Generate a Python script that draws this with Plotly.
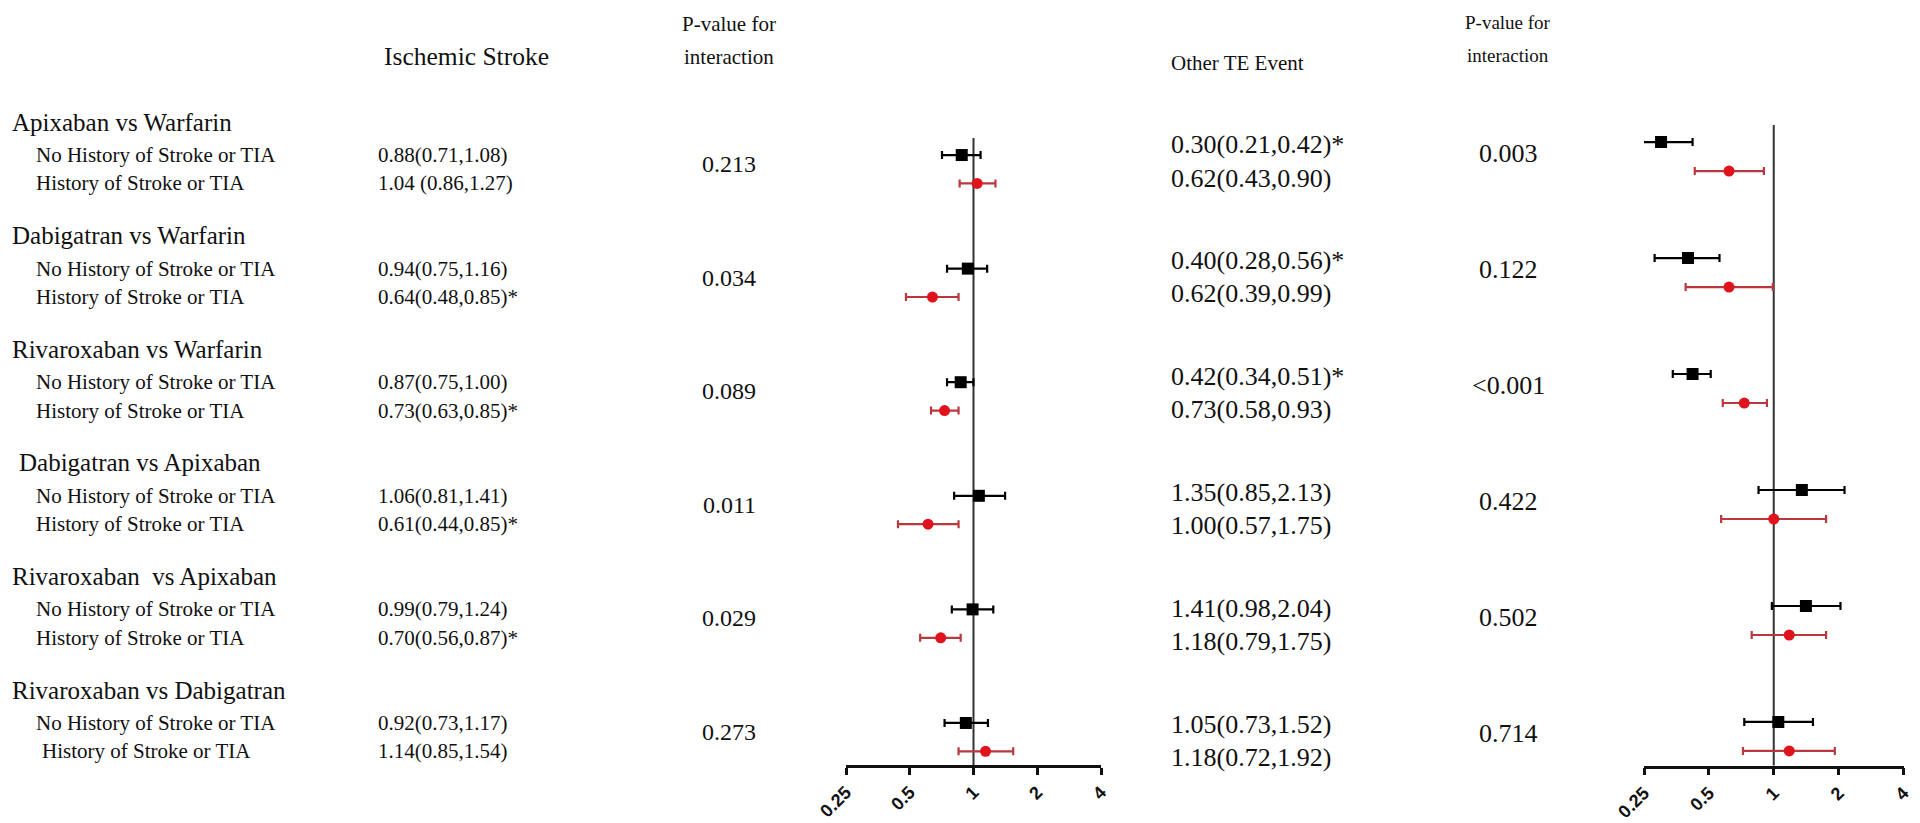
import math
import plotly.graph_objects as go

# ---------------- data ----------------
comparisons = ["Apixaban vs Warfarin", "Dabigatran vs Warfarin", "Rivaroxaban vs Warfarin",
               " Dabigatran vs Apixaban", "Rivaroxaban  vs Apixaban", "Rivaroxaban vs Dabigatran"]
subgroups = ["No History of Stroke or TIA", "History of Stroke or TIA"]

# Ischemic stroke
is_no_hr = [0.88, 0.94, 0.87, 1.06, 0.99, 0.92]
is_no_lo = [0.71, 0.75, 0.75, 0.81, 0.79, 0.73]
is_no_hi = [1.08, 1.16, 1.00, 1.41, 1.24, 1.17]
is_hx_hr = [1.04, 0.64, 0.73, 0.61, 0.70, 1.14]
is_hx_lo = [0.86, 0.48, 0.63, 0.44, 0.56, 0.85]
is_hx_hi = [1.27, 0.85, 0.85, 0.85, 0.87, 1.54]
is_no_txt = ["0.88(0.71,1.08)", "0.94(0.75,1.16)", "0.87(0.75,1.00)",
             "1.06(0.81,1.41)", "0.99(0.79,1.24)", "0.92(0.73,1.17)"]
is_hx_txt = ["1.04 (0.86,1.27)", "0.64(0.48,0.85)*", "0.73(0.63,0.85)*",
             "0.61(0.44,0.85)*", "0.70(0.56,0.87)*", "1.14(0.85,1.54)"]
is_p = ["0.213", "0.034", "0.089", "0.011", "0.029", "0.273"]

# Other TE event
te_no_hr = [0.30, 0.40, 0.42, 1.35, 1.41, 1.05]
te_no_lo = [0.21, 0.28, 0.34, 0.85, 0.98, 0.73]
te_no_hi = [0.42, 0.56, 0.51, 2.13, 2.04, 1.52]
te_hx_hr = [0.62, 0.62, 0.73, 1.00, 1.18, 1.18]
te_hx_lo = [0.43, 0.39, 0.58, 0.57, 0.79, 0.72]
te_hx_hi = [0.90, 0.99, 0.93, 1.75, 1.75, 1.92]
te_no_txt = ["0.30(0.21,0.42)*", "0.40(0.28,0.56)*", "0.42(0.34,0.51)*",
             "1.35(0.85,2.13)", "1.41(0.98,2.04)", "1.05(0.73,1.52)"]
te_hx_txt = ["0.62(0.43,0.90)", "0.62(0.39,0.99)", "0.73(0.58,0.93)",
             "1.00(0.57,1.75)", "1.18(0.79,1.75)", "1.18(0.72,1.92)"]
te_p = ["0.003", "0.122", "<0.001", "0.422", "0.502", "0.714"]

tick_vals = [0.25, 0.5, 1, 2, 4]
tick_text = ["0.25", "0.5", "1", "2", "4"]

# ---------------- layout helpers ----------------
W, H = 1920, 823
def px(x):
    return x / W
def py(y):
    return 1 - y / H

BLACK = "#000000"
RED_M = "#e0121c"
RED_E = "#b8383d"
SERIF = "Liberation Serif, Times New Roman, serif"

rows = list(range(len(comparisons)))
rows_hx = [r + 0.25 for r in rows]

L_TOP, L_BOT = 138, 765
L_YMIN, L_YMAX = -0.15, 5.37
R_TOP, R_BOT = 125, 765.7
R_YMIN, R_YMAX = -0.147, 5.377

def left_row_to_paper(v):
    ypx = L_TOP + (v - L_YMIN) * (L_BOT - L_TOP) / (L_YMAX - L_YMIN)
    return py(ypx)

fig = go.Figure()

def add_forest(xa, ya, no_hr, no_lo, no_hi, hx_hr, hx_lo, hx_hi, ymin, ymax):
    fig.add_trace(go.Scatter(x=[1, 1], y=[ymin, ymax], mode="lines",
                             line=dict(color="#333333", width=2),
                             xaxis=xa, yaxis=ya, hoverinfo="skip", showlegend=False))
    fig.add_trace(go.Scatter(
        x=no_hr, y=rows, mode="markers",
        marker=dict(symbol="square", size=12, color=BLACK),
        error_x=dict(type="data", symmetric=False,
                     array=[h - m for h, m in zip(no_hi, no_hr)],
                     arrayminus=[m - l for m, l in zip(no_hr, no_lo)],
                     color=BLACK, thickness=2.2, width=4),
        xaxis=xa, yaxis=ya, showlegend=False))
    fig.add_trace(go.Scatter(
        x=hx_hr, y=rows_hx, mode="markers",
        marker=dict(symbol="circle", size=11, color=RED_M),
        error_x=dict(type="data", symmetric=False,
                     array=[h - m for h, m in zip(hx_hi, hx_hr)],
                     arrayminus=[m - l for m, l in zip(hx_hr, hx_lo)],
                     color=RED_E, thickness=2.2, width=4),
        xaxis=xa, yaxis=ya, showlegend=False))

add_forest("x", "y", is_no_hr, is_no_lo, is_no_hi, is_hx_hr, is_hx_lo, is_hx_hi, L_YMIN, L_YMAX)
add_forest("x2", "y2", te_no_hr, te_no_lo, te_no_hi, te_hx_hr, te_hx_lo, te_hx_hi, R_YMIN, R_YMAX)

xaxis_common = dict(
    type="log", range=[math.log10(0.25), math.log10(4)],
    tickvals=tick_vals, ticktext=["<b>%s</b>" % t for t in tick_text], tickangle=-45,
    tickfont=dict(family="Liberation Sans, Arial, sans-serif", size=18, color="#111111"),
    ticks="outside", ticklen=7, tickwidth=2.5, tickcolor="#111111",
    showline=True, linecolor="#111111", linewidth=2.5,
    showgrid=False, zeroline=False, fixedrange=True, automargin=False,
)
yaxis_common = dict(showgrid=False, zeroline=False, showline=False,
                    showticklabels=False, ticks="", fixedrange=True, automargin=False)

fig.update_layout(
    width=W, height=H, autosize=False,
    margin=dict(l=0, r=0, t=0, b=0, pad=0, autoexpand=False),
    paper_bgcolor="white", plot_bgcolor="rgba(0,0,0,0)",
    showlegend=False,
    xaxis=dict(domain=[px(846), px(1101)], anchor="y", **xaxis_common),
    yaxis=dict(domain=[py(L_BOT), py(L_TOP)], range=[L_YMAX, L_YMIN], anchor="x", **yaxis_common),
    xaxis2=dict(domain=[px(1644), px(1903.5)], anchor="y2", **xaxis_common),
    yaxis2=dict(domain=[py(R_BOT), py(R_TOP)], range=[R_YMAX, R_YMIN], anchor="x2", **yaxis_common),
)

ann = []
def text(x, y, s, size, yref="paper", xanchor="left"):
    ann.append(dict(x=x, y=y, xref="paper", yref=yref, text=s, showarrow=False,
                    xanchor=xanchor, yanchor="middle",
                    font=dict(family=SERIF, size=size, color="#111111")))

LF = 21   # left table rows
GF = 25   # group labels
LP = 24   # left p-values
RF = 26   # right table

text(px(382), py(57), "Ischemic Stroke", 25.5)
text(px(729), py(24), "P-value for", 21, xanchor="center")
text(px(729), py(57), "interaction", 21, xanchor="center")
text(px(1169), py(63), "Other TE Event", 21)
text(px(1508), py(22), "P-value for", 19, xanchor="center")
text(px(1508), py(55), "interaction", 19, xanchor="center")

for g in rows:
    gx = 17 if comparisons[g].startswith(" ") else 10
    text(px(gx), left_row_to_paper(g - 0.29), comparisons[g].strip(), GF)
    text(px(34), g, subgroups[0], LF, yref="y")
    hx_x = 40 if g == len(rows) - 1 else 34
    text(px(hx_x), g + 0.25, subgroups[1], LF, yref="y")
    text(px(376), g, is_no_txt[g], LF, yref="y")
    text(px(376), g + 0.25, is_hx_txt[g], LF, yref="y")
    text(px(729), g + 0.08, is_p[g], LP, yref="y", xanchor="center")
    text(px(1169), g + 0.02, te_no_txt[g], RF, yref="y2")
    text(px(1169), g + 0.31, te_hx_txt[g], RF, yref="y2")
    text(px(1508), g + 0.1, te_p[g], RF, yref="y2", xanchor="center")

fig.update_layout(annotations=ann)

fig.write_html("out.html", config={"responsive": False, "displayModeBar": False},
               post_script="document.body.style.margin='0';document.body.style.overflow='hidden';")
